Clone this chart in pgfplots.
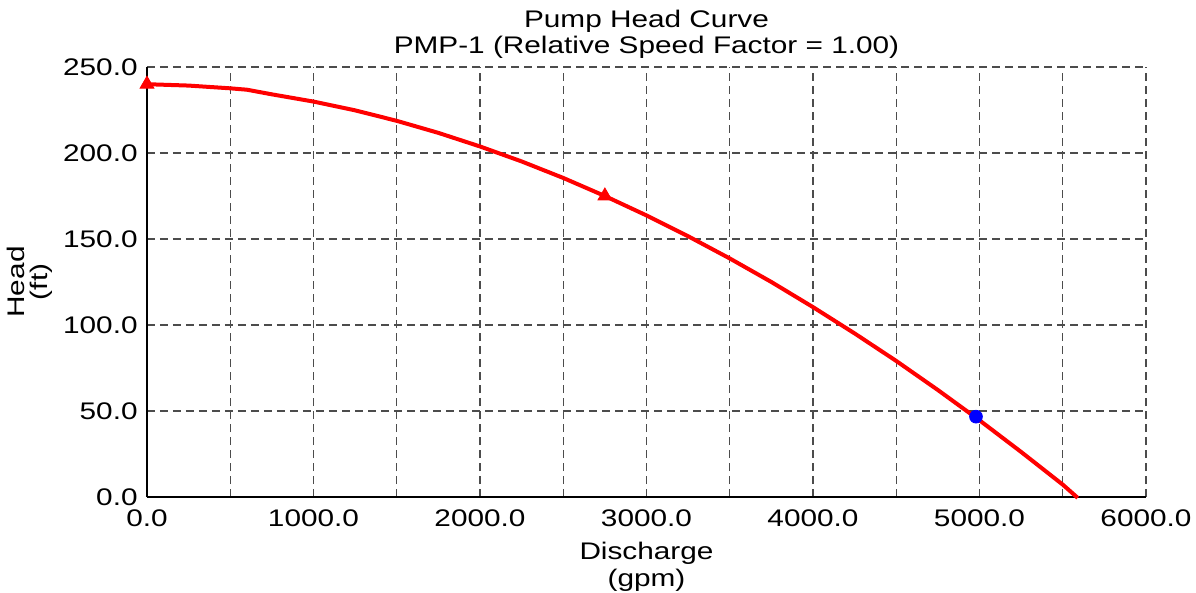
\documentclass[border=0pt]{standalone}
\usepackage{fontspec}
\setmainfont[FakeStretch=1.24]{Liberation Sans}
\usepackage{pgfplots}
\pgfplotsset{compat=1.18}
\begin{document}
\fontsize{12bp}{13bp}\selectfont
\begin{tikzpicture}
\useasboundingbox (-73.5bp,-48bp) rectangle (524.5bp,248.5bp);
\begin{axis}[
  scale only axis,
  width=499.5bp, height=215bp,
  xmin=0, xmax=6000, ymin=0, ymax=250,
  axis x line*=bottom, axis y line*=left,
  axis line style={black, line width=0.8bp, -},
  xtick={0,1000,...,6000},
  minor xtick={500,1500,...,5500},
  ytick={0,50,...,250},
  major tick length=0, minor tick length=0,
  grid=both,
  major grid style={black!70, line width=0.6bp, dash pattern=on 4bp off 2.5bp},
  minor grid style={black!70, line width=0.6bp, dash pattern=on 4bp off 2.5bp},
  /pgf/number format/assume math mode=true,
  /pgf/number format/fixed,
  /pgf/number format/fixed zerofill,
  /pgf/number format/precision=1,
  /pgf/number format/1000 sep={},
  scaled ticks=false,
  tick label style={font=\fontsize{12bp}{13bp}\selectfont},
  xticklabel style={yshift=-2bp},
  yticklabel style={xshift=-0.5bp},
  title={Pump Head Curve\\PMP-1 (Relative Speed Factor = 1.00)},
  title style={align=center, at={(axis description cs:0.5,1)}, anchor=south, inner sep=0pt, yshift=-2bp, font=\fontsize{12bp}{13bp}\selectfont},
  xlabel={Discharge\\(gpm)},
  xlabel style={align=center, at={(axis description cs:0.5,0)}, anchor=center, yshift=-35bp, font=\fontsize{12bp}{13.5bp}\selectfont},
  ylabel={Head\\(ft)},
  ylabel style={align=center, at={(axis description cs:-0.117,0.5)}, anchor=center, font=\fontsize{12bp}{11.5bp}\selectfont},
  clip=false,
]
\addplot[red, line width=2bp, line join=round] coordinates {
(0,240.0) (250,239.2) (500,237.6) (600,236.8) (750,234.1) (1000,229.9)
(1250,224.8) (1500,218.7) (1750,211.7) (2000,203.8) (2250,195.1)
(2500,185.5) (2750,175.0) (3000,163.7) (3250,151.6) (3500,138.7)
(3750,125.0) (4000,110.4) (4250,95.1) (4500,79.1) (4750,62.2)
(5000,44.6) (5250,26.2) (5500,7.2) (5590,-0.5)
};
\addplot[only marks, red, mark=triangle*, mark size=4bp] coordinates {(0,240) (2750,175)};
\addplot[only marks, blue, mark=*, mark size=3.2bp] coordinates {(4979,46.7)};
\end{axis}
\end{tikzpicture}
\end{document}
